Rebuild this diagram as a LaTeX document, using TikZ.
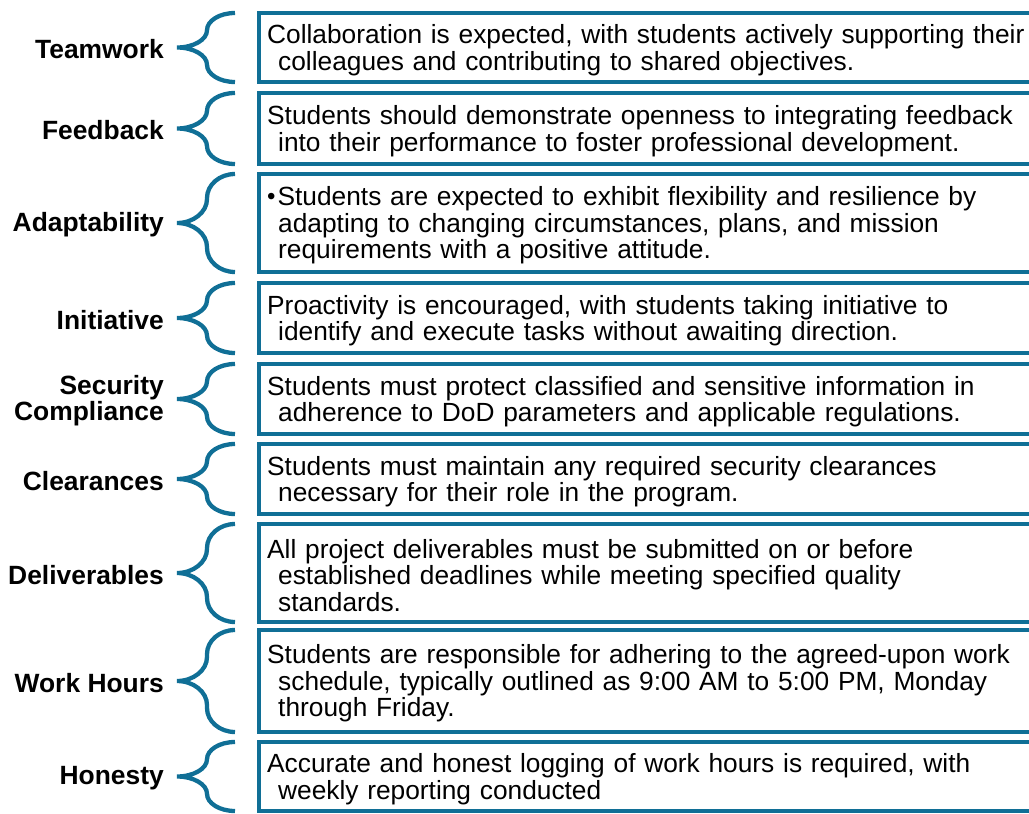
\documentclass[tikz,border=0pt]{standalone}
\usepackage{fontspec}
\setmainfont{Liberation Sans}

\definecolor{tealblue}{RGB}{16,111,150}

\tikzset{
  infobox/.style={draw=tealblue,line width=4.3pt,outer sep=0pt,anchor=north west,minimum width=820pt},
  boxtext/.style={anchor=west,inner sep=0pt,text width=790pt,align=left,font=\fontsize{26.3}{26.6}\selectfont},
  toplabel/.style={anchor=east,inner sep=0pt,align=right,font=\fontsize{26.4}{26}\selectfont\bfseries},
  bracestyle/.style={draw=tealblue,line width=4.3pt}
}

% hanging indent of the wrapped lines, and the small bullet
\newcommand\wrapin{\hspace*{11pt}}
\newcommand\smallbullet{\raisebox{1pt}{\fontsize{24}{24}\selectfont\textbullet}\hspace{2pt}}

% rounded brace between two heights
\newcommand\curlybrace[2]{%
  \pgfmathsetmacro\ym{(#1+#2)/2}
  \pgfmathsetmacro\rr{min(24,(#2-#1)/4)}
  \draw[bracestyle] (235,#1) .. controls (219.5,#1) and (207,{#1+0.45*\rr}) .. (207,{#1+\rr})
    -- (207,{\ym-\rr}) .. controls (207,{\ym-0.45*\rr}) and (193.5,\ym) .. (177,\ym)
    .. controls (193.5,\ym) and (207,{\ym+0.45*\rr}) .. (207,{\ym+\rr})
    -- (207,{#2-\rr}) .. controls (207,{#2-0.45*\rr}) and (219.5,#2) .. (235,#2);
}

\begin{document}
\begin{tikzpicture}[x=1pt,y=-1pt]
  \useasboundingbox (0,0) rectangle (1029,814);
  \clip (0,0) rectangle (1029,814);

  \foreach \nm/\ya/\yb/\lbl/\txt in {
    team/13/82/Teamwork/{Collaboration is expected, with students actively supporting their\\\wrapin colleagues and contributing to shared objectives.},
    feed/93/164/Feedback/{Students should demonstrate openness to integrating feedback\\\wrapin into their performance to foster professional development.},
    adapt/174/272/Adaptability/{\smallbullet Students are expected to exhibit flexibility and resilience by\\\wrapin adapting to changing circumstances, plans, and mission\\\wrapin requirements with a positive attitude.},
    init/283/353/Initiative/{Proactivity is encouraged, with students taking initiative to\\\wrapin identify and execute tasks without awaiting direction.},
    secur/364/434/{Security\\Compliance}/{Students must protect classified and sensitive information in\\\wrapin adherence to DoD parameters and applicable regulations.},
    clear/444/514/Clearances/{Students must maintain any required security clearances\\\wrapin necessary for their role in the program.},
    deliv/524/622/Deliverables/{All project deliverables must be submitted on or before\\\wrapin established deadlines while meeting specified quality\\\wrapin standards.},
    hours/630/732/Work Hours/{Students are responsible for adhering to the agreed-upon work\\\wrapin schedule, typically outlined as 9:00 AM to 5:00 PM, Monday\\\wrapin through Friday.},
    hon/742/811/Honesty/{Accurate and honest logging of work hours is required, with\\\wrapin weekly reporting conducted}
  }{
    \node[infobox,minimum height={\yb-\ya}] (\nm box) at (259,\ya) {};
    \node[boxtext] (\nm txt) at ([xshift=8pt,yshift=-2.5pt]\nm box.west) {\txt};
    \node[toplabel] (\nm) at (164,{(\ya+\yb)/2+2}) {\lbl};
    \curlybrace{\ya}{\yb}
  }
\end{tikzpicture}
\end{document}
